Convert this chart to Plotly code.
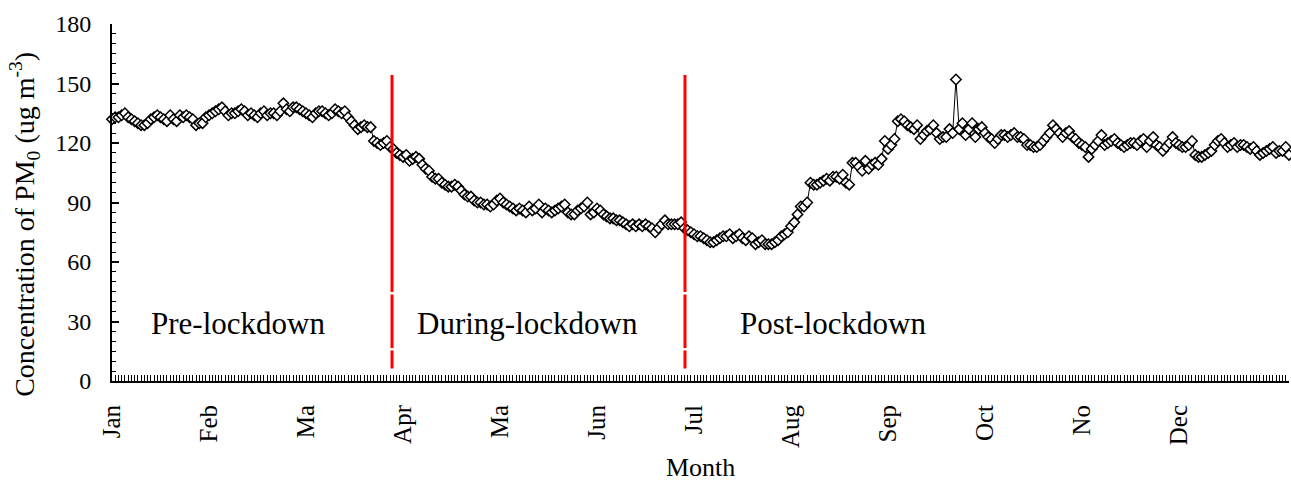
import plotly.graph_objects as go

# Daily PM concentration (day index 0 = 1 Jan)
pm_values = [
    132, 133, 133, 134, 135, 133, 132, 131, 130, 129, 129, 130, 132, 133, 134, 133, 132, 131, 134, 132,
    131, 134, 133, 134, 133, 132, 129, 130, 130, 133, 134,
    135, 136, 137, 138, 136, 134, 135, 135, 136, 137, 136, 134, 135, 134, 133, 135, 136, 134, 135,
    135, 134, 136, 140, 137, 136, 138, 138, 137, 136,
    135, 134, 133, 135, 136, 136, 135, 134, 135, 137, 136, 135, 136, 133, 131, 129, 127, 128, 129, 128,
    128, 121, 120, 119, 120, 121, 118, 117, 115, 114, 113, 114, 111, 112, 113, 112, 109, 107, 106, 103,
    102, 102, 100, 99, 98, 98, 99, 98, 96, 94, 93, 93, 91, 90, 90, 89, 89, 88, 89, 91,
    92, 90, 89, 88, 87, 86, 87, 86, 85, 88, 86, 87, 89, 85, 87, 86, 85, 86, 87, 88,
    89, 85, 84, 84, 86, 87, 88, 90, 84, 85, 87, 86, 84, 83, 82, 82, 81, 81, 80, 79,
    78, 79, 78, 79, 78, 79, 78, 77, 75, 77, 79, 81, 79, 79, 79, 79, 80, 77, 76, 75,
    74, 73, 73, 72, 71, 70, 70, 71, 72, 73, 73, 74, 72, 73, 74, 72, 71, 73, 72, 69,
    70, 71, 69, 69, 69, 70, 71, 73, 74, 75, 78, 80, 84, 88, 88, 90, 100, 99, 99, 100,
    101, 102, 101, 103, 103, 102, 104, 100, 99, 110, 110, 108, 106, 111, 107, 109, 110, 109, 112, 121,
    117, 119, 122, 131, 132, 131, 129, 128, 127, 129, 122, 124, 126, 127, 129, 125, 122, 123, 123, 127,
    125, 152, 127, 130, 124, 127, 130, 123, 127, 128, 125, 123, 122, 120, 122, 124, 124, 123, 124, 125,
    123, 123, 122, 119, 119, 118, 118, 119, 121, 123, 125, 129, 127, 125, 123, 125, 126, 123, 122, 120,
    119, 118, 113, 117, 119, 121, 124, 119, 120, 121, 122, 120, 119, 118, 119, 120, 120, 119, 121, 122,
    118, 121, 123, 119, 118, 116, 118, 120, 123, 120, 119, 118, 118, 119, 121, 114, 113, 113, 114, 115,
    116, 119, 121, 122, 120, 118, 119, 120, 118, 119, 119, 118, 117, 118, 116, 114, 115, 116, 117, 118,
    115, 116, 116, 118, 114,
]
day_index = list(range(len(pm_values)))

month_ticks = [0, 30, 60, 90, 120, 150, 180, 210, 240, 270, 300, 330]
month_labels = ["Jan", "Feb", "Ma", "Apr", "Ma", "Jun", "Jul", "Aug", "Sep", "Oct", "No", "Dec"]
y_ticks = [0, 30, 60, 90, 120, 150, 180]

phase_boundaries = [86.6, 177.2]
phase_labels = ["Pre-lockdown", "During-lockdown", "Post-lockdown"]
phase_label_x = [39, 128.6, 223]
phase_label_y = 29.2

FONT = "Liberation Serif"

fig = go.Figure()

# red dividing lines (with small gaps)
segments = [(154.3, 44.9), (43.6, 16.6), (15.4, 6.3)]
for xb in phase_boundaries:
    for y0, y1 in segments:
        fig.add_shape(type="line", x0=xb, x1=xb, y0=y0, y1=y1, xref="x", yref="y",
                      line=dict(color="#ff0000", width=3), layer="above")

fig.add_trace(go.Scatter(
    x=day_index, y=pm_values, mode="lines+markers",
    line=dict(color="black", width=1),
    marker=dict(symbol="diamond", size=8, color="white",
                line=dict(color="black", width=1.5)),
    cliponaxis=False, showlegend=False,
))

for lab, lx in zip(phase_labels, phase_label_x):
    fig.add_annotation(x=lx, y=phase_label_y, xref="x", yref="y", text=lab, showarrow=False,
                       font=dict(family=FONT, size=31, color="black"),
                       xanchor="center", yanchor="middle")

fig.add_annotation(x=-0.074, y=0.44, xref="paper", yref="paper",
                   text="Concentration of PM<sub>0</sub> (ug m<sup>-3</sup>)",
                   textangle=-90, showarrow=False,
                   font=dict(family=FONT, size=28, color="black"),
                   xanchor="center", yanchor="middle")
fig.add_annotation(x=0.5, y=-0.241, xref="paper", yref="paper", text="Month",
                   showarrow=False, font=dict(family=FONT, size=26, color="black"),
                   xanchor="center", yanchor="middle")

fig.update_layout(
    width=1291, height=482,
    margin=dict(l=112, r=2, t=24, b=101),
    plot_bgcolor="white", paper_bgcolor="white",
    font=dict(family=FONT, size=24, color="black"),
    xaxis=dict(
        range=[0, 364], tickmode="array", tickvals=month_ticks, ticktext=month_labels,
        tickangle=-90, ticks="inside", ticklen=6, tickwidth=1, tickcolor="black",
        showline=True, linecolor="black", linewidth=2, showgrid=False, zeroline=False,
        ticklabelstandoff=12,
        minor=dict(dtick=1, tick0=0, ticks="inside", ticklen=6, tickwidth=1, tickcolor="black"),
        tickfont=dict(family=FONT, size=25, color="black"),
    ),
    yaxis=dict(
        range=[0, 180], tickmode="array", tickvals=y_ticks,
        ticks="inside", ticklen=7, tickwidth=1.5, tickcolor="black",
        showline=True, linecolor="black", linewidth=2, showgrid=False, zeroline=False,
        ticklabelstandoff=14,
        minor=dict(dtick=5, tick0=0, ticks="inside", ticklen=4, tickwidth=1, tickcolor="black"),
        tickfont=dict(family=FONT, size=24, color="black"),
    ),
)

fig.write_html("out.html")
